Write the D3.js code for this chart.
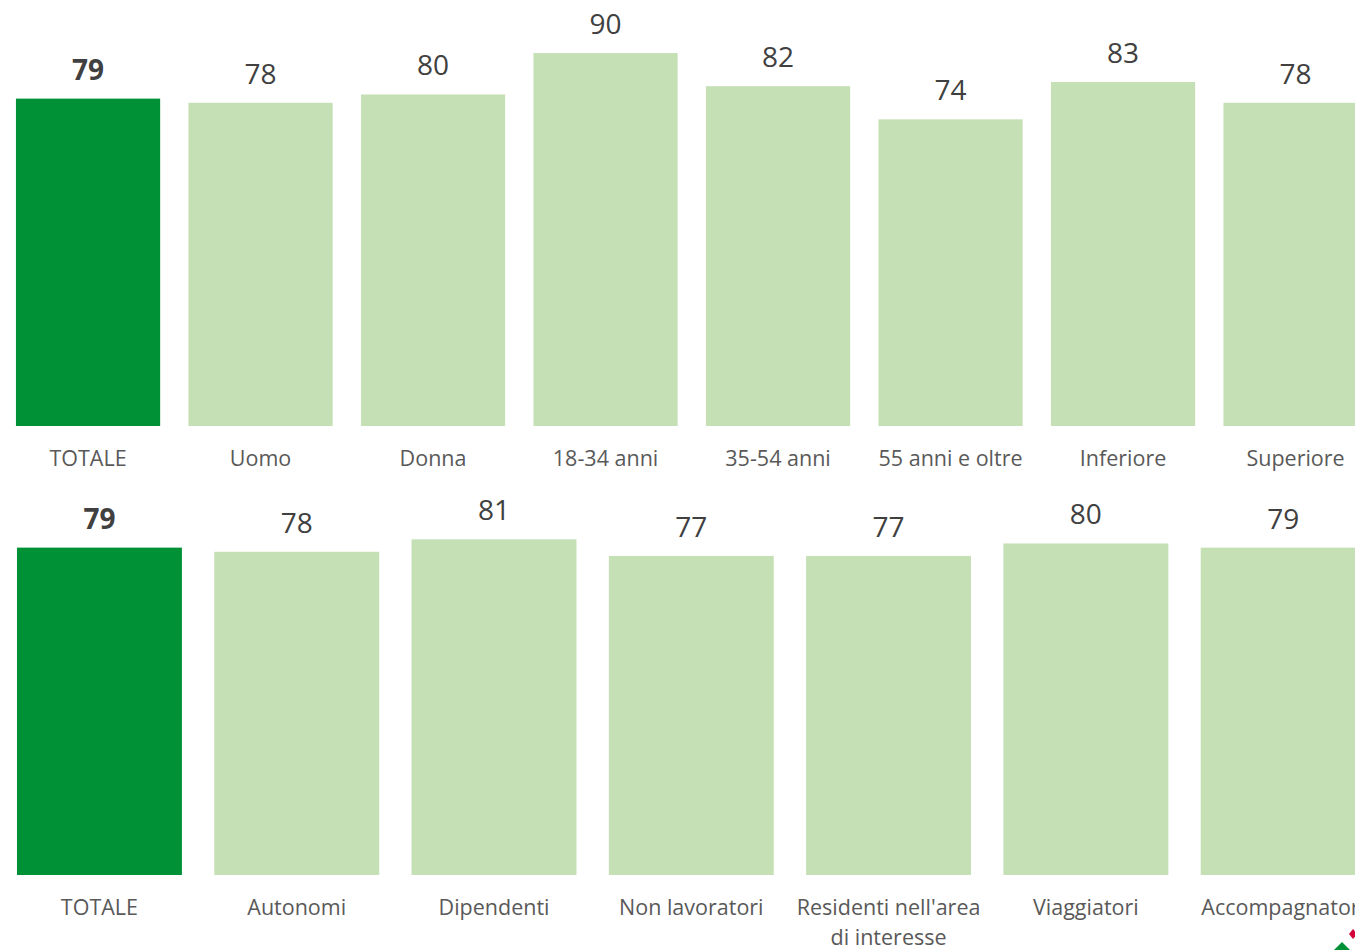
<!DOCTYPE html>
<html>
<head>
<meta charset="utf-8">
<script src="https://cdn.jsdelivr.net/npm/d3@7"></script>
<style>
  html, body { margin: 0; padding: 0; background: #fff; overflow: hidden; }
  svg { display: block; }
  .value { font-family: "Open Sans", sans-serif; font-size: 28px; fill: #404040; }
  .value.total { font-weight: bold; }
  .cat { font-family: "Open Sans", sans-serif; font-size: 21.5px; fill: #595959; }
</style>
</head>
<body>
<svg id="chart" width="1355" height="950"></svg>
<script>
// top panel: totale, sesso, età, titolo di studio
const topCategories = ['TOTALE', 'Uomo', 'Donna', '18-34 anni', '35-54 anni', '55 anni e oltre', 'Inferiore', 'Superiore'];
const topValues = [79, 78, 80, 90, 82, 74, 83, 78];

// bottom panel: condizione / tipologia
const bottomCategories = ['TOTALE', 'Autonomi', 'Dipendenti', 'Non lavoratori', "Residenti nell'area|di interesse", 'Viaggiatori', 'Accompagnatori'];
const bottomValues = [79, 78, 81, 77, 77, 80, 79];

const colors = { total: '#009035', other: '#c5e0b4' };

const svg = d3.select('#chart');

function drawPanel({ categories, values, range, baseline, labelY }) {
  const data = categories.map((c, i) => ({ cat: c, value: values[i], total: i === 0 }));

  const x = d3.scaleBand()
    .domain(categories)
    .range(range)
    .paddingInner(0.164)
    .paddingOuter(0.082);

  const y = d3.scaleLinear()
    .domain([0, 100])
    .range([baseline, baseline - 414.4]);

  const g = svg.append('g');

  g.selectAll('.bar')
    .data(data)
    .enter().append('rect')
      .attr('class', 'bar')
      .attr('x', d => x(d.cat))
      .attr('y', d => y(d.value))
      .attr('width', x.bandwidth())
      .attr('height', d => y(0) - y(d.value))
      .style('fill', d => (d.total ? colors.total : colors.other));

  g.selectAll('.value')
    .data(data)
    .enter().append('text')
      .attr('class', d => (d.total ? 'value total' : 'value'))
      .attr('x', d => x(d.cat) + x.bandwidth() / 2)
      .attr('y', d => y(d.value) - 19)
      .attr('text-anchor', 'middle')
      .text(d => d.value);

  const labels = g.selectAll('.cat')
    .data(data)
    .enter().append('text')
      .attr('class', 'cat')
      .attr('x', d => x(d.cat) + x.bandwidth() / 2)
      .attr('y', labelY)
      .attr('text-anchor', 'middle');

  labels.each(function addLines(d) {
    const text = d3.select(this);
    d.cat.split('|').forEach((line, i) => {
      text.append('tspan')
        .attr('x', x(d.cat) + x.bandwidth() / 2)
        .attr('dy', i === 0 ? 0 : 30)
        .text(line);
    });
  });
}

drawPanel({
  categories: topCategories,
  values: topValues,
  range: [1.8, 1381.8],
  baseline: 426,
  labelY: 466,
});

drawPanel({
  categories: bottomCategories,
  values: bottomValues,
  range: [0.8, 1381.8],
  baseline: 875,
  labelY: 915,
});

// logo fragment in the corner
svg.append('path')
  .attr('d', 'M1353,929 L1357,934 L1353,939 L1349,934 Z')
  .style('fill', '#d4003a');
svg.append('path')
  .attr('d', 'M1342,942 L1350,950 L1334,950 Z')
  .style('fill', '#009035');
</script>
</body>
</html>
